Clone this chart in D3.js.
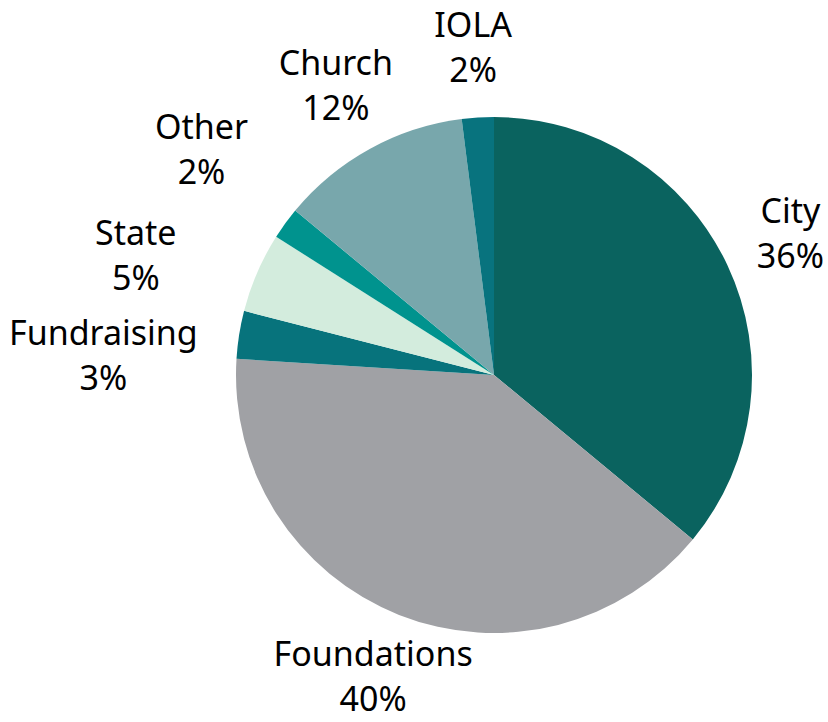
<!DOCTYPE html>
<html>
<head>
<meta charset="utf-8">
<script src="https://cdn.jsdelivr.net/npm/d3@7"></script>
<style>
  html, body { margin: 0; padding: 0; background: #fff; }
  text { font-family: "Noto Sans", sans-serif; font-size: 34px; fill: #000; }
</style>
</head>
<body>
<div id="chart"></div>
<script>
var categories = ['City', 'Foundations', 'Fundraising', 'State', 'Other', 'Church', 'IOLA'];
var shares = [36, 40, 3, 5, 2, 12, 2];
var colors = ['#0a635f', '#a0a1a5', '#07737c', '#d3ecdd', '#00938e', '#78a7ac', '#08737e'];

// label nudges where the labels crowd each other or meet the edge (layout only)
var labelNudge = [[0, 0], [24, -6], [-7, 33], [-51, 13], [-17, -30], [11, 1], [0, 4]];

var width = 828, height = 722,
    cx = 494, cy = 375, radius = 258, gap = 36, lineH = 45;

var data = categories.map(function (c, i) {
  return {name: c, value: shares[i], color: colors[i], nudge: labelNudge[i]};
});

var svg = d3.select('#chart').append('svg')
  .attr('width', width)
  .attr('height', height);

var pie = d3.pie()
  .sort(null)
  .value(function (d) { return d.value; });

var arc = d3.arc()
  .innerRadius(0)
  .outerRadius(radius);

var arcs = pie(data);

var g = svg.append('g')
  .attr('transform', 'translate(' + cx + ',' + cy + ')');

g.selectAll('path.slice')
  .data(arcs)
  .enter()
  .append('path')
  .attr('class', 'slice')
  .attr('d', arc)
  .style('fill', function (d) { return d.data.color; });

var labels = g.selectAll('text.label')
  .data(arcs)
  .enter()
  .append('text')
  .attr('class', 'label')
  .attr('text-anchor', 'middle');

labels.append('tspan')
  .attr('class', 'name')
  .text(function (d) { return d.data.name; });
labels.append('tspan')
  .attr('class', 'pct')
  .text(function (d) { return d.data.value + '%'; });

// outside-end labels: push each label box out along the slice's mid angle
labels.each(function (d) {
  var t = d3.select(this);
  var w = Math.max(t.select('.name').node().getComputedTextLength(),
                   t.select('.pct').node().getComputedTextLength());
  var h = 75;
  var a = (d.startAngle + d.endAngle) / 2;
  var x = (radius + gap) * Math.sin(a) + (w / 2) * Math.sin(a) + d.data.nudge[0];
  var y = -(radius + gap) * Math.cos(a) - (h / 2) * Math.cos(a) + d.data.nudge[1];
  t.select('.name').attr('x', x).attr('y', y - 11);
  t.select('.pct').attr('x', x).attr('y', y - 11 + lineH);
});
</script>
</body>
</html>
